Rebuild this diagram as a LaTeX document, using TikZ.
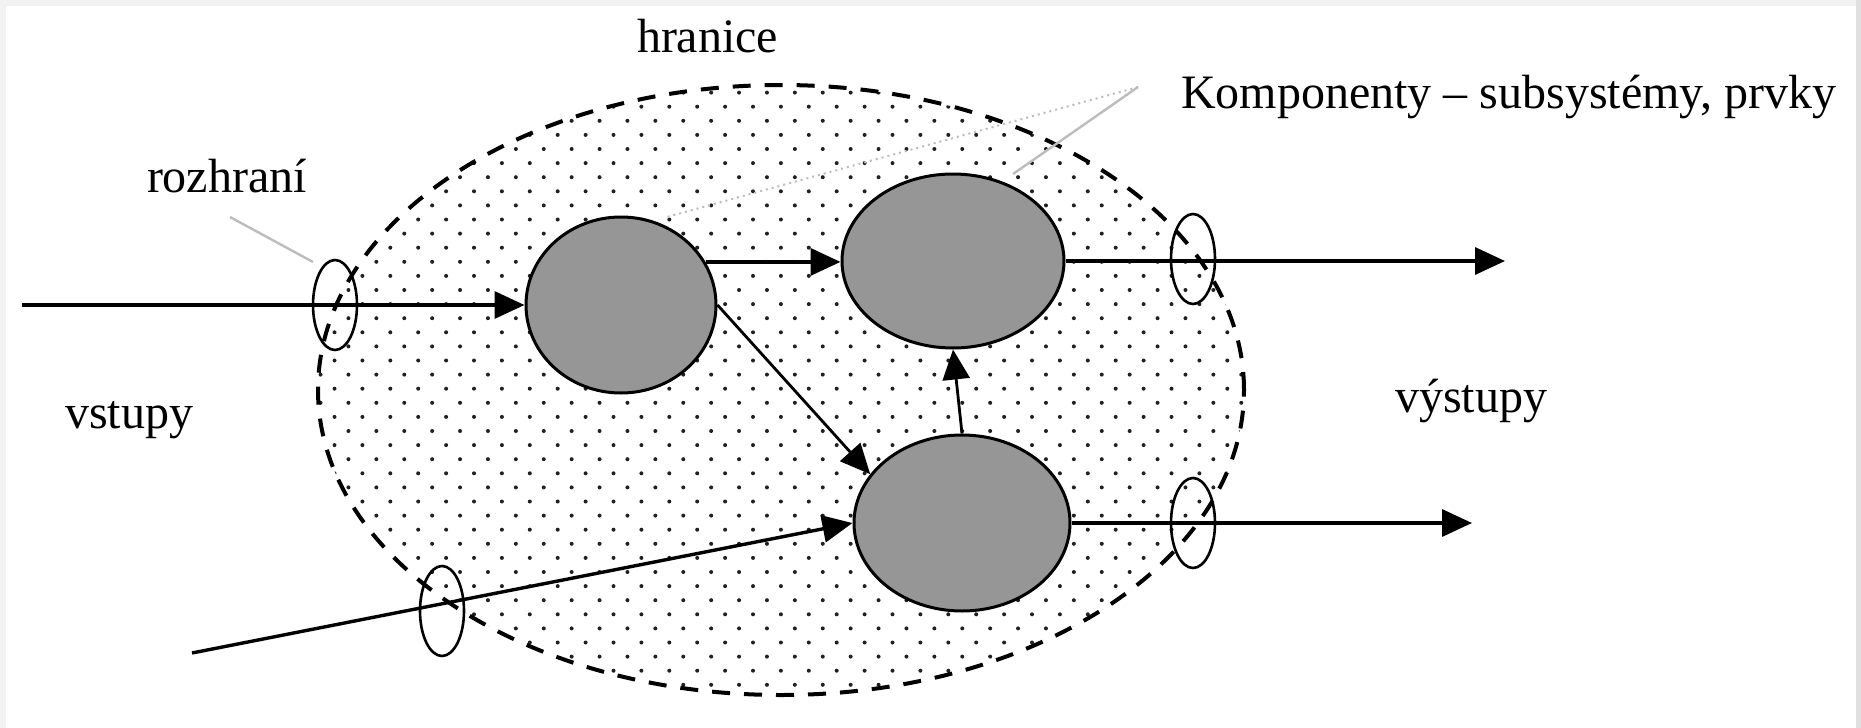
\documentclass[tikz,border=0pt]{standalone}
\usepackage{fontspec}
\setmainfont{Liberation Serif}
\usetikzlibrary{arrows.meta,shapes.geometric}
\definecolor{compgray}{HTML}{969696}
\definecolor{dotc}{HTML}{202020}
\definecolor{leadgray}{HTML}{BDBDBD}
\definecolor{framea}{HTML}{F2F2F2}
\definecolor{frameb}{HTML}{E0E0E0}
\begin{document}
\begin{tikzpicture}[x=1pt,y=-1pt,
  comp/.style={ellipse, draw, line width=3pt, fill=compgray, inner sep=0pt},
  port/.style={ellipse, draw, line width=2.6pt, inner sep=0pt,
               minimum width=44pt, minimum height=90pt},
  arr/.style={-{Triangle[length=30pt,width=27pt]}, line width=3.4pt},
  thinarr/.style={-{Triangle[length=30pt,width=27pt]}, line width=2.8pt},
  leader/.style={leadgray, line width=2.4pt},
  boundary/.style={line width=4pt, dash pattern=on 18pt off 14pt},
  lbl/.style={inner sep=0pt, outer sep=0pt, anchor=base west,
              font=\fontsize{48pt}{58pt}\selectfont}]

% page and frame
\useasboundingbox (0,0) rectangle (1861,728);
\fill[white] (0,0) rectangle (1861,728);
\fill[framea] (0,0) rectangle (1861,6);
\fill[framea] (0,0) rectangle (6,728);
\fill[frameb] (1856,0) rectangle (1861,728);

% dotted interior of the system
\begin{scope}
  \clip (781,390) ellipse [x radius=463pt, y radius=305pt];
  \foreach \r in {-2,...,43} {
    \pgfmathsetmacro{\yy}{106.7+14.1*\r}
    \pgfmathsetmacro{\xo}{27.6-13.95*mod(\r+2,2)}
    \foreach \i in {10,...,46} {
      \fill[dotc] (\xo+27.9*\i,\yy) circle (2pt);
    }
  }
\end{scope}

% system boundary
\draw[boundary] (781,390) ellipse [x radius=463pt, y radius=305pt];

% leader lines
\coordinate (kl) at (1138,87);
\coordinate (kB) at (1013,174);
\coordinate (kA) at (667,217);
\coordinate (rl) at (230,217);
\coordinate (rp) at (313,262);
\draw[leader] (kl) -- (kB);
\draw[leader, line width=2pt, dash pattern=on 2pt off 4pt] (kl) -- (kA);
\draw[leader] (rl) -- (rp);

% components
\node[comp, minimum width=190pt, minimum height=176pt] (A) at (621,305) {};
\node[comp, minimum width=222pt, minimum height=174pt] (B) at (953,261) {};
\node[comp, minimum width=216pt, minimum height=176pt] (C) at (962,523) {};

% interfaces
\node[port] (p1) at (335,305) {};
\node[port] (p2) at (1193,259) {};
\node[port] (p3) at (1193,523) {};
\node[port] (p4) at (442,611) {};

% inputs and outputs
\coordinate (in1) at (22,305);
\coordinate (in2) at (192,653);
\coordinate (out1) at (1505,261);
\coordinate (out2) at (1472,523);

\draw[arr] (in1) -- (A.west);
\draw[arr] (in2) -- (C.west);
\draw[arr] (A.27) -- (A.27 -| B.west);
\draw[thinarr] (A.east) -- (C.152);
\draw[thinarr] (C.north) -- (B.south);
\draw[arr] (B.east) -- (out1);
\draw[arr] (C.east) -- (out2);

% labels
\node[lbl] (hr) at (637,52) {hranice};
\node[lbl] (ko) at (1181,108) {Komponenty – subsystémy, prvky};
\node[lbl] (ro) at (147,192) {rozhraní};
\node[lbl] (vs) at (65,428) {vstupy};
\node[lbl] (vy) at (1395,412) {výstupy};
\end{tikzpicture}
\end{document}
